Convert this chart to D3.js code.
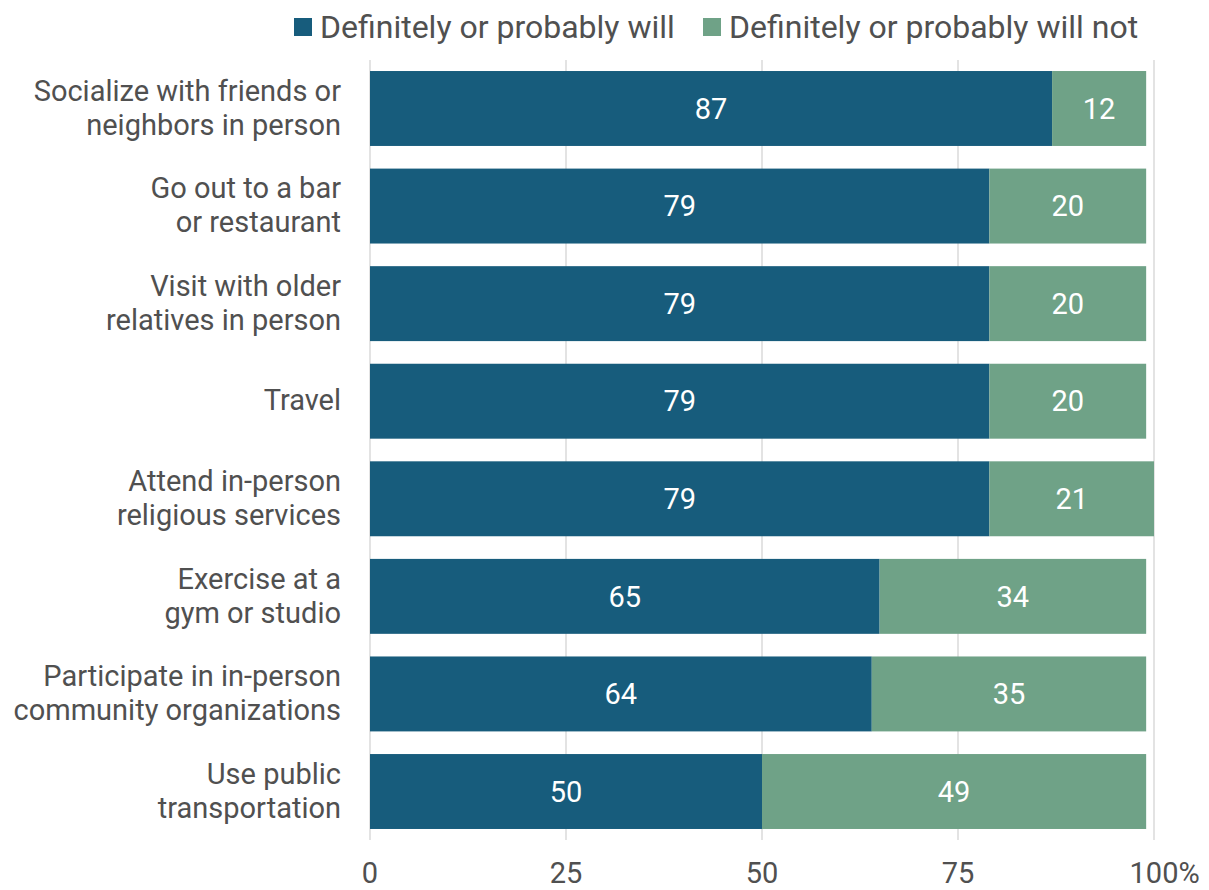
<!DOCTYPE html>
<html><head><meta charset="utf-8">
<script src="https://cdn.jsdelivr.net/npm/d3@7"></script>
<style>body{margin:0;background:#fff;} svg{display:block;font-family:Roboto,sans-serif;}</style>
</head><body>
<svg id="c" width="1209" height="890"></svg>
<script>
const categories = [
  ["Socialize with friends or","neighbors in person"],
  ["Go out to a bar","or restaurant"],
  ["Visit with older","relatives in person"],
  ["Travel"],
  ["Attend in-person","religious services"],
  ["Exercise at a","gym or studio"],
  ["Participate in in-person","community organizations"],
  ["Use public","transportation"]
];
const willValues = [87,79,79,79,79,65,64,50];
const willNotValues = [12,20,20,20,21,34,35,49];
const seriesNames = ["Definitely or probably will","Definitely or probably will not"];
const tickValues = [0,25,50,75,100];
const tickLabels = ["0","25","50","75","100%"];
const colors = ["#175c7c","#6fa287"];

const svg = d3.select("#c");
const x = d3.scaleLinear().domain([0,100]).range([370,1154]);
const y = d3.scaleBand().domain(d3.range(categories.length)).range([59.7,840.3]).paddingInner(0.232).paddingOuter(0.116);
const textColor = "#505050";

// gridlines
svg.append("g").selectAll("line").data(tickValues).join("line")
  .attr("x1",d=>x(d)).attr("x2",d=>x(d)).attr("y1",60).attr("y2",840)
  .attr("stroke","#e3e3e3").attr("stroke-width",2);

const data = categories.map((c,i)=>({i, will:willValues[i], not:willNotValues[i]}));
const g = svg.append("g");
g.selectAll("rect.w").data(data).join("rect").attr("class","w")
  .attr("x",x(0)).attr("y",d=>y(d.i)).attr("width",d=>x(d.will)-x(0)).attr("height",y.bandwidth())
  .attr("fill",colors[0]);
g.selectAll("rect.n").data(data).join("rect").attr("class","n")
  .attr("x",d=>x(d.will)).attr("y",d=>y(d.i)).attr("width",d=>x(d.will+d.not)-x(d.will)).attr("height",y.bandwidth())
  .attr("fill",colors[1]);
g.selectAll("text.wl").data(data).join("text").attr("class","wl")
  .attr("x",d=>x(d.will/2)).attr("y",d=>y(d.i)+y.bandwidth()/2).attr("dy","0.35em")
  .attr("text-anchor","middle").attr("fill","#fff").attr("font-size",29).text(d=>d.will);
g.selectAll("text.nl").data(data).join("text").attr("class","nl")
  .attr("x",d=>x(d.will+d.not/2)).attr("y",d=>y(d.i)+y.bandwidth()/2).attr("dy","0.35em")
  .attr("text-anchor","middle").attr("fill","#fff").attr("font-size",29).text(d=>d.not);

// category labels
const cl = svg.append("g").selectAll("text").data(categories).join("text")
  .attr("text-anchor","end").attr("fill",textColor).attr("font-size",29)
  .attr("y",(d,i)=>y(i)+y.bandwidth()/2 - 1);
cl.each(function(lines){
  const t = d3.select(this);
  const n = lines.length;
  lines.forEach((ln,k)=>{
    t.append("tspan").attr("x",341).attr("dy", k===0 ? ((-(n-1)*34/2)/29+0.35)+"em" : "34px").text(ln);
  });
});

// x tick labels
const tl = svg.append("g").selectAll("text").data(tickValues).join("text")
  .attr("y",883).attr("fill",textColor).attr("font-size",29)
  .attr("x",d=>x(d)).attr("text-anchor","middle")
  .text((d,i)=>tickLabels[i]);
tl.filter((d,i)=>i===tickValues.length-1).each(function(d){
  const w = this.getSubStringLength(0,3);
  d3.select(this).attr("text-anchor","start").attr("x",x(d)-w/2);
});

// legend
const legend = svg.append("g");
const legX = [294,703];
seriesNames.forEach((s,i)=>{
  legend.append("rect").attr("x",legX[i]).attr("y",18).attr("width",18).attr("height",18).attr("fill",colors[i]);
  legend.append("text").attr("x",legX[i]+26).attr("y",27).attr("dy","0.35em").attr("font-size",32).attr("fill",textColor).text(s);
});
</script>
</body></html>
